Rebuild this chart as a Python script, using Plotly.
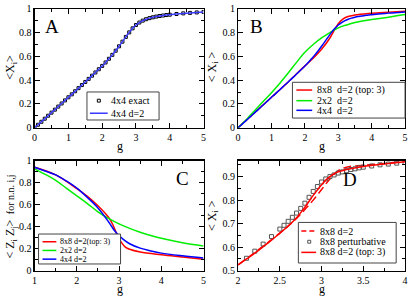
import plotly.graph_objects as go

# ---------------- data ----------------
# Panel A
g_a = [0, 0.1, 0.2, 0.3, 0.4, 0.5, 0.6, 0.7, 0.8, 0.9, 1.0, 1.1, 1.2, 1.3, 1.4, 1.5, 1.6, 1.7, 1.8, 1.9,
       2.0, 2.1, 2.2, 2.3, 2.4, 2.5, 2.6, 2.7, 2.8, 2.9, 3.0, 3.1, 3.2, 3.3, 3.4, 3.5, 3.6, 3.7, 3.8, 3.9,
       4.0, 4.2, 4.4, 4.6, 4.8, 5.0]
x_exact_4x4 = [0, 0.025, 0.05, 0.076, 0.101, 0.127, 0.152, 0.178, 0.204, 0.23, 0.256, 0.281, 0.307, 0.333,
               0.359, 0.385, 0.411, 0.438, 0.465, 0.492, 0.52, 0.549, 0.58, 0.613, 0.648, 0.685, 0.724,
               0.764, 0.802, 0.836, 0.864, 0.885, 0.901, 0.913, 0.922, 0.929, 0.935, 0.94, 0.944, 0.948,
               0.951, 0.957, 0.962, 0.966, 0.97, 0.974]
x_d2_4x4 = [0, 0.025, 0.05, 0.076, 0.101, 0.127, 0.152, 0.178, 0.204, 0.23, 0.256, 0.281, 0.307, 0.333,
            0.359, 0.385, 0.411, 0.438, 0.465, 0.492, 0.52, 0.549, 0.58, 0.613, 0.648, 0.685, 0.724,
            0.764, 0.802, 0.836, 0.864, 0.885, 0.901, 0.913, 0.922, 0.929, 0.935, 0.94, 0.944, 0.948,
            0.951, 0.957, 0.962, 0.966, 0.97, 0.974]

# Panel B
g_b_red = [0, 0.5, 1, 1.5, 2, 2.25, 2.5, 2.75, 2.9, 3.0, 3.1, 3.2, 3.5, 4, 4.5, 5]
x_8x8_top3 = [0, 0.128, 0.256, 0.385, 0.52, 0.585, 0.66, 0.755, 0.83, 0.875, 0.905, 0.925, 0.948,
              0.963, 0.972, 0.98]
g_b_green = [0, 0.25, 0.5, 0.75, 1, 1.25, 1.5, 1.75, 2, 2.25, 2.5, 2.75, 3, 3.25, 3.5, 4, 4.5, 5]
x_2x2_d2 = [0, 0.07, 0.145, 0.22, 0.295, 0.375, 0.46, 0.55, 0.635, 0.7, 0.755, 0.8, 0.84, 0.865,
            0.885, 0.91, 0.93, 0.952]

# Panel C
g_c_blue = [1, 1.25, 1.5, 1.75, 2, 2.25, 2.5, 2.75, 2.9, 3, 3.1, 3.25, 3.5, 3.75, 4, 4.5, 5]
zz_4x4 = [0.94, 0.905, 0.87, 0.815, 0.75, 0.665, 0.57, 0.445, 0.36, 0.32, 0.285, 0.245, 0.205, 0.18,
          0.16, 0.135, 0.115]
g_c_red = [1, 1.5, 2, 2.25, 2.5, 2.75, 2.85, 2.95, 3.05, 3.15, 3.25, 3.5, 4, 4.5, 5]
zz_8x8 = [0.94, 0.87, 0.745, 0.675, 0.59, 0.485, 0.42, 0.33, 0.26, 0.215, 0.195, 0.17, 0.145, 0.125, 0.105]
g_c_green = [1, 1.25, 1.5, 1.75, 2, 2.25, 2.5, 2.75, 3, 3.25, 3.5, 3.75, 4, 4.5, 5]
zz_2x2 = [0.925, 0.875, 0.82, 0.75, 0.68, 0.61, 0.535, 0.475, 0.425, 0.385, 0.35, 0.32, 0.295, 0.255, 0.225]

# Panel D
g_d_top3 = [2, 2.1, 2.2, 2.3, 2.4, 2.5, 2.6, 2.7, 2.8, 2.9, 3.0, 3.05, 3.1, 3.15, 3.2, 3.3, 3.5, 3.75, 4]
xd_top3 = [0.525, 0.55, 0.575, 0.602, 0.63, 0.66, 0.69, 0.725, 0.77, 0.82, 0.865, 0.885, 0.9, 0.912,
           0.92, 0.93, 0.943, 0.953, 0.963]
g_d_d2 = [2, 2.5, 2.7, 2.8, 2.9, 3.0, 3.1, 3.2, 3.3, 3.5, 3.75, 4]
xd_d2 = [0.525, 0.66, 0.722, 0.76, 0.8, 0.845, 0.89, 0.925, 0.94, 0.948, 0.956, 0.965]
g_d_pert = [2.1, 2.2, 2.3, 2.4, 2.5, 2.55, 2.6, 2.65, 2.7, 2.75, 2.8, 2.85, 2.9, 2.95, 3.0, 3.05, 3.1,
            3.15, 3.2, 3.25, 3.3, 3.35, 3.4, 3.45, 3.5, 3.6, 3.7, 3.8, 3.9, 4.0]
xd_pert = [0.553, 0.583, 0.613, 0.645, 0.677, 0.693, 0.71, 0.727, 0.745, 0.765, 0.787, 0.812, 0.837,
           0.858, 0.877, 0.89, 0.9, 0.907, 0.915, 0.92, 0.925, 0.93, 0.933, 0.937, 0.94, 0.945, 0.95,
           0.953, 0.957, 0.96]

# ---------------- figure ----------------
FONT = "Liberation Serif"
RED, GREEN, BLUE, BLUE_A = "#ff0000", "#00ee00", "#0000ff", "#3a3aff"
PERT = "#555555"

fig = go.Figure()

def line(x, y, color, ax, dash="solid"):
    fig.add_trace(go.Scatter(x=x, y=y, mode="lines", showlegend=False, hoverinfo="skip",
                             line=dict(color=color, width=1.5, dash=dash, shape="spline"),
                             xaxis="x" + ax, yaxis="y" + ax))

def marks(x, y, color, size, ax):
    fig.add_trace(go.Scatter(x=x, y=y, mode="markers", showlegend=False, hoverinfo="skip",
                             marker=dict(symbol="square-open", size=size, color=color, line=dict(width=1)),
                             xaxis="x" + ax, yaxis="y" + ax))

# A
marks(g_a, x_exact_4x4, "black", 3, "")
line(g_a, x_d2_4x4, BLUE_A, "")
# B
line(g_b_red, x_8x8_top3, RED, "2")
line(g_b_green, x_2x2_d2, GREEN, "2")
line(g_a, x_d2_4x4, BLUE, "2")
# C
line(g_c_red, zz_8x8, RED, "3")
line(g_c_green, zz_2x2, GREEN, "3")
line(g_c_blue, zz_4x4, BLUE, "3")
# D
line(g_d_d2, xd_d2, RED, "4", dash="8px,4px")
marks(g_d_pert, xd_pert, PERT, 4, "4")
line(g_d_top3, xd_top3, RED, "4")

W, H = 411, 297
def px(v): return v / W
def py(v): return 1 - v / H

dom = {
    "A": ([px(32), px(203)], [py(127), py(4)]),
    "B": ([px(238), px(407)], [py(127), py(4)]),
    "C": ([px(32), px(203)], [py(275), py(161)]),
    "D": ([px(238), px(407)], [py(275), py(161)]),
}

def ax(domain, rng, dtick, mdtick, anchor):
    return dict(domain=domain, range=rng, dtick=dtick, tick0=rng[0], anchor=anchor,
                showline=True, linecolor="black", linewidth=1.2, mirror="ticks",
                ticks="inside", ticklen=5, tickcolor="black", tickwidth=1,
                minor=dict(ticks="inside", ticklen=3, dtick=mdtick, tickcolor="black", tickwidth=1),
                showgrid=False, zeroline=False, ticklabeloverflow="allow", fixedrange=True,
                tickfont=dict(family=FONT, size=10, color="black"))

fig.update_layout(
    width=W, height=H, margin=dict(l=0, r=0, t=0, b=0),
    paper_bgcolor="white", plot_bgcolor="white", hovermode=False,
    font=dict(family=FONT, color="black"),
    xaxis=ax(dom["A"][0], [0, 5], 1, 0.5, "y"),
    yaxis=ax(dom["A"][1], [0, 1], 0.2, 0.1, "x"),
    xaxis2=ax(dom["B"][0], [0, 5], 1, 0.5, "y2"),
    yaxis2=ax(dom["B"][1], [0, 1], 0.2, 0.1, "x2"),
    xaxis3=ax(dom["C"][0], [1, 5], 1, 0.5, "y3"),
    yaxis3=ax(dom["C"][1], [0, 1], 0.2, 0.1, "x3"),
    xaxis4=ax(dom["D"][0], [2, 4], 0.5, 0.25, "y4"),
    yaxis4=ax(dom["D"][1], [0.5, 0.968], 0.1, 0.05, "x4"),
)

def text(s, x, y, size, xanchor="center", angle=0, yanchor="middle"):
    fig.add_annotation(text=s, xref="paper", yref="paper", x=px(x), y=py(y), xanchor=xanchor,
                       yanchor=yanchor, showarrow=False, textangle=angle, borderpad=0,
                       font=dict(family=FONT, size=size, color="black"))

# axis titles
for cx, cy in [(118, 137.5), (323, 137.5), (118, 285.5), (323, 285.5)]:
    text("g", cx, cy, 12, yanchor="top")
text("&lt;X<sub>i</sub>&gt;", 8, 64, 12, angle=-90)
text("&lt; X<sub>i</sub> &gt;", 212, 64, 12, angle=-90)
text("&lt; Z<sub>i</sub> Z<sub>j</sub>&gt; <span style='font-size:10px'> for n.n. i,j</span>", 8, 219, 12, angle=-90)
text("&lt; X<sub>i</sub> &gt;", 212, 218, 12, angle=-90)

# panel letters
text("A", 50, 22, 19)
text("B", 257, 22, 19)
text("C", 182, 180, 19)
text("D", 351, 181, 19)

# legends (drawn as boxes with sample lines/markers and text)
def box(x0, y0, x1, y1):
    fig.add_shape(type="rect", xref="paper", yref="paper", x0=px(x0), x1=px(x1), y0=py(y0), y1=py(y1),
                  line=dict(color="#444444", width=1), fillcolor="white", layer="above")

def sample_line(x0, x1, y, color, dash="solid"):
    fig.add_shape(type="line", xref="paper", yref="paper", x0=px(x0), x1=px(x1), y0=py(y), y1=py(y),
                  line=dict(color=color, width=1.5, dash=dash), layer="above")

def sample_square(cx, cy, color, s=3):
    fig.add_shape(type="rect", xref="paper", yref="paper", x0=px(cx - s / 2), x1=px(cx + s / 2),
                  y0=py(cy - s / 2), y1=py(cy + s / 2), line=dict(color=color, width=1), layer="above")

# A legend
box(85, 90, 158, 119)
sample_square(97, 99, "black")
text("4x4 exact", 108, 99, 10, "left")
sample_line(88, 106, 112, BLUE_A)
text("4x4 d=2", 108, 112, 10, "left")

# B legend
box(293, 80, 407, 117)
for yy, col, lab in [(88, RED, "8x8  d=2 (top: 3)"), (99, GREEN, "2x2  d=2"), (109, BLUE, "4x4  d=2")]:
    sample_line(297, 313, yy, col)
    text(lab, 317, yy, 10, "left")

# C legend
box(36, 237, 119, 268)
for yy, col, lab in [(245, RED, "8x8 d=2(top: 3)"), (254, GREEN, "2x2 d=2"), (263, BLUE, "4x4 d=2")]:
    sample_line(40, 54, yy, col)
    text(lab, 57, yy, 8, "left")

# D legend
box(299, 225, 398, 267)
sample_line(302, 317, 234, RED, dash="5px,3px")
text("8x8 d=2", 320, 234, 10, "left")
sample_square(310, 245, PERT)
text("8x8 perturbative", 320, 245, 10, "left")
sample_line(302, 317, 256, RED)
text("8x8 d=2 (top: 3)", 320, 256, 10, "left")

fig.write_html("out.html", config={"displayModeBar": False, "staticPlot": True},
               post_script="document.body.style.margin='0';document.body.style.padding='0';")
